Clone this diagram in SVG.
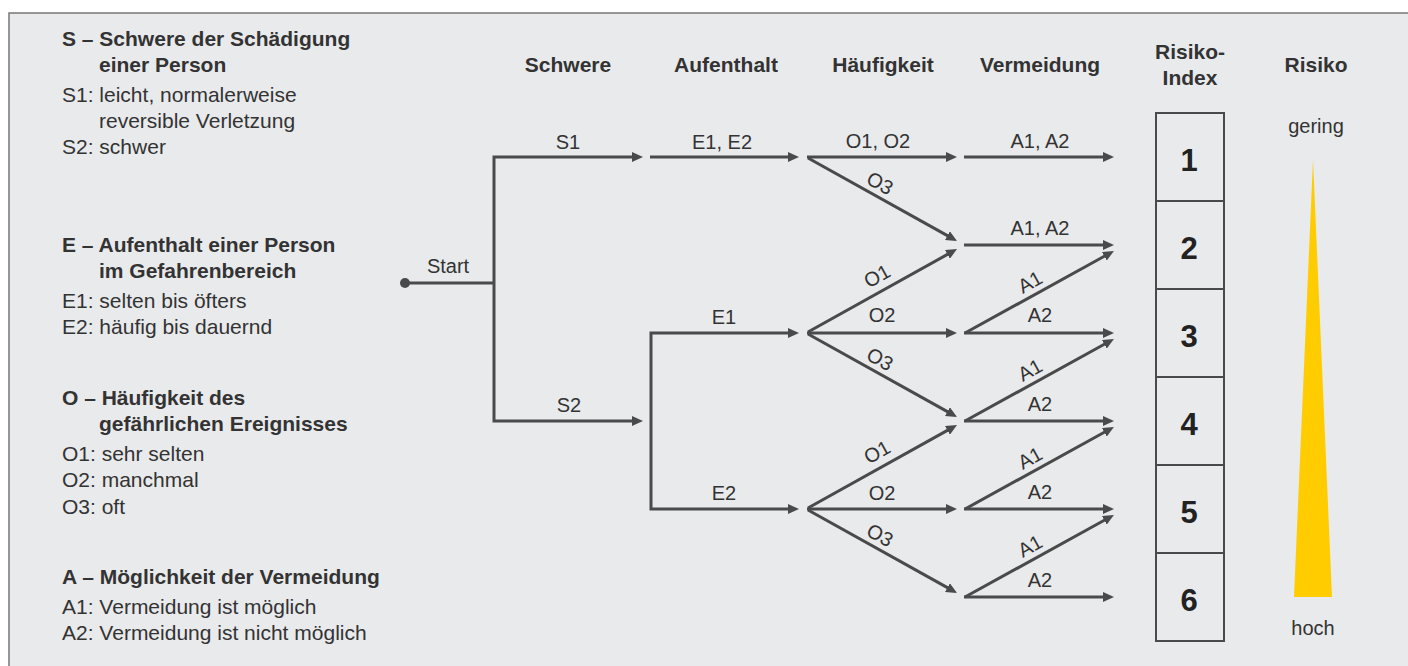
<svg xmlns="http://www.w3.org/2000/svg" width="1408" height="666" viewBox="0 0 1408 666">
<defs>
<style>
.t{font-family:"Liberation Sans",Arial,Helvetica,sans-serif;fill:#333;}
.b{font-weight:bold;font-size:21px;}
.r{font-size:21px;}
.l{font-size:20px;text-anchor:middle;}
.h{font-weight:bold;font-size:21px;text-anchor:middle;}
.n{font-family:"Liberation Sans",Arial,Helvetica,sans-serif;font-weight:bold;font-size:31px;text-anchor:middle;fill:#222;}
.c{fill:none;stroke:#4a4a4a;stroke-width:3;}
.a{marker-end:url(#ah);}
.box{fill:none;stroke:#4a4a4a;stroke-width:2;}
</style>
<marker id="ah" markerWidth="12" markerHeight="10" refX="1" refY="5" orient="auto" markerUnits="userSpaceOnUse">
<path d="M0,0 L11,5 L0,10 z" fill="#4a4a4a"/>
</marker>
</defs>
<rect x="0" y="0" width="1408" height="666" fill="#ffffff"/>
<rect x="9" y="13" width="1410" height="670" fill="#e9eaec" stroke="#777" stroke-width="1.5"/>

<g id="legend">
<text class="t b" x="62" y="46">S – Schwere der Schädigung</text>
<text class="t b" x="99" y="72">einer Person</text>
<text class="t r" x="62" y="102">S1: leicht, normalerweise</text>
<text class="t r" x="99" y="128">reversible Verletzung</text>
<text class="t r" x="62" y="154">S2: schwer</text>
<text class="t b" x="62" y="252">E – Aufenthalt einer Person</text>
<text class="t b" x="99" y="278">im Gefahrenbereich</text>
<text class="t r" x="62" y="308">E1: selten bis öfters</text>
<text class="t r" x="62" y="334">E2: häufig bis dauernd</text>
<text class="t b" x="62" y="405">O – Häufigkeit des</text>
<text class="t b" x="99" y="431">gefährlichen Ereignisses</text>
<text class="t r" x="62" y="461">O1: sehr selten</text>
<text class="t r" x="62" y="487">O2: manchmal</text>
<text class="t r" x="62" y="514">O3: oft</text>
<text class="t b" x="62" y="584">A – Möglichkeit der Vermeidung</text>
<text class="t r" x="62" y="614">A1: Vermeidung ist möglich</text>
<text class="t r" x="62" y="640">A2: Vermeidung ist nicht möglich</text>
</g>

<g id="headers">
<text class="t h" x="568" y="72">Schwere</text>
<text class="t h" x="726" y="72">Aufenthalt</text>
<text class="t h" x="883" y="72">Häufigkeit</text>
<text class="t h" x="1040" y="72">Vermeidung</text>
<text class="t h" x="1190" y="59">Risiko-</text>
<text class="t h" x="1190" y="85">Index</text>
<text class="t h" x="1316" y="72">Risiko</text>
</g>

<g id="start">
<circle cx="405" cy="283" r="5" fill="#4a4a4a"/>
<text class="t l" x="448" y="273">Start</text>
</g>

<g id="connectors">
<path class="c" d="M405,283 H494"/>
<path class="c a" d="M494,283 V157 H633"/>
<path class="c a" d="M494,283 V421 H633"/>
<path class="c a" d="M650,157 H789"/>
<path class="c a" d="M651,421 V333 H789"/>
<path class="c a" d="M651,421 V509 H789"/>
<!-- Haeufigkeit from 157 -->
<path class="c a" d="M807,157 H947"/>
<path class="c a" d="M808,158 L948.3,236.1"/>
<!-- from 333 -->
<path class="c a" d="M808,332 L948.3,253.9"/>
<path class="c a" d="M807,333 H947"/>
<path class="c a" d="M808,334 L948.3,412.1"/>
<!-- from 509 -->
<path class="c a" d="M808,508 L948.3,429.9"/>
<path class="c a" d="M807,509 H947"/>
<path class="c a" d="M808,510 L948.3,588.1"/>
<!-- Vermeidung -->
<path class="c a" d="M964,157 H1104"/>
<path class="c a" d="M964,245 H1104"/>
<path class="c a" d="M965,333 L1105.2,255.8"/>
<path class="c a" d="M964,333 H1104"/>
<path class="c a" d="M965,421 L1105.2,343.8"/>
<path class="c a" d="M964,421 H1104"/>
<path class="c a" d="M965,509 L1105.2,431.8"/>
<path class="c a" d="M964,509 H1104"/>
<path class="c a" d="M965,597 L1105.2,519.8"/>
<path class="c a" d="M964,597 H1104"/>
</g>

<g id="labels">
<text class="t l" x="568" y="149">S1</text>
<text class="t l" x="569" y="412">S2</text>
<text class="t l" x="722" y="149">E1, E2</text>
<text class="t l" x="724" y="324">E1</text>
<text class="t l" x="724" y="500">E2</text>
<text class="t l" x="878" y="148">O1, O2</text>
<text class="t l" x="882" y="322">O2</text>
<text class="t l" x="882" y="500">O2</text>
<g transform="translate(880,183) rotate(29)"><text class="t l" x="0" y="7">O3</text></g>
<g transform="translate(880,359) rotate(29)"><text class="t l" x="0" y="7">O3</text></g>
<g transform="translate(880,535) rotate(29)"><text class="t l" x="0" y="7">O3</text></g>
<g transform="translate(877,276) rotate(-29)"><text class="t l" x="0" y="7">O1</text></g>
<g transform="translate(877,452) rotate(-29)"><text class="t l" x="0" y="7">O1</text></g>
<text class="t l" x="1040" y="148">A1, A2</text>
<text class="t l" x="1040" y="235">A1, A2</text>
<text class="t l" x="1040" y="322">A2</text>
<text class="t l" x="1040" y="411">A2</text>
<text class="t l" x="1040" y="499">A2</text>
<text class="t l" x="1040" y="587">A2</text>
<g transform="translate(1030,282) rotate(-29)"><text class="t l" x="0" y="7">A1</text></g>
<g transform="translate(1030,370) rotate(-29)"><text class="t l" x="0" y="7">A1</text></g>
<g transform="translate(1030,458) rotate(-29)"><text class="t l" x="0" y="7">A1</text></g>
<g transform="translate(1030,546) rotate(-29)"><text class="t l" x="0" y="7">A1</text></g>
</g>

<g id="risk-index">
<rect class="box" x="1156" y="113" width="68" height="88"/>
<rect class="box" x="1156" y="201" width="68" height="88"/>
<rect class="box" x="1156" y="289" width="68" height="88"/>
<rect class="box" x="1156" y="377" width="68" height="88"/>
<rect class="box" x="1156" y="465" width="68" height="88"/>
<rect class="box" x="1156" y="553" width="68" height="88"/>
<text class="n" x="1189" y="171">1</text>
<text class="n" x="1189" y="259">2</text>
<text class="n" x="1189" y="347">3</text>
<text class="n" x="1189" y="435">4</text>
<text class="n" x="1189" y="523">5</text>
<text class="n" x="1189" y="611">6</text>
</g>

<g id="risk-scale">
<text class="t l" x="1316" y="133">gering</text>
<polygon points="1313,160 1294,597 1332,597" fill="#ffcc00"/>
<text class="t l" x="1313" y="635">hoch</text>
</g>
</svg>
